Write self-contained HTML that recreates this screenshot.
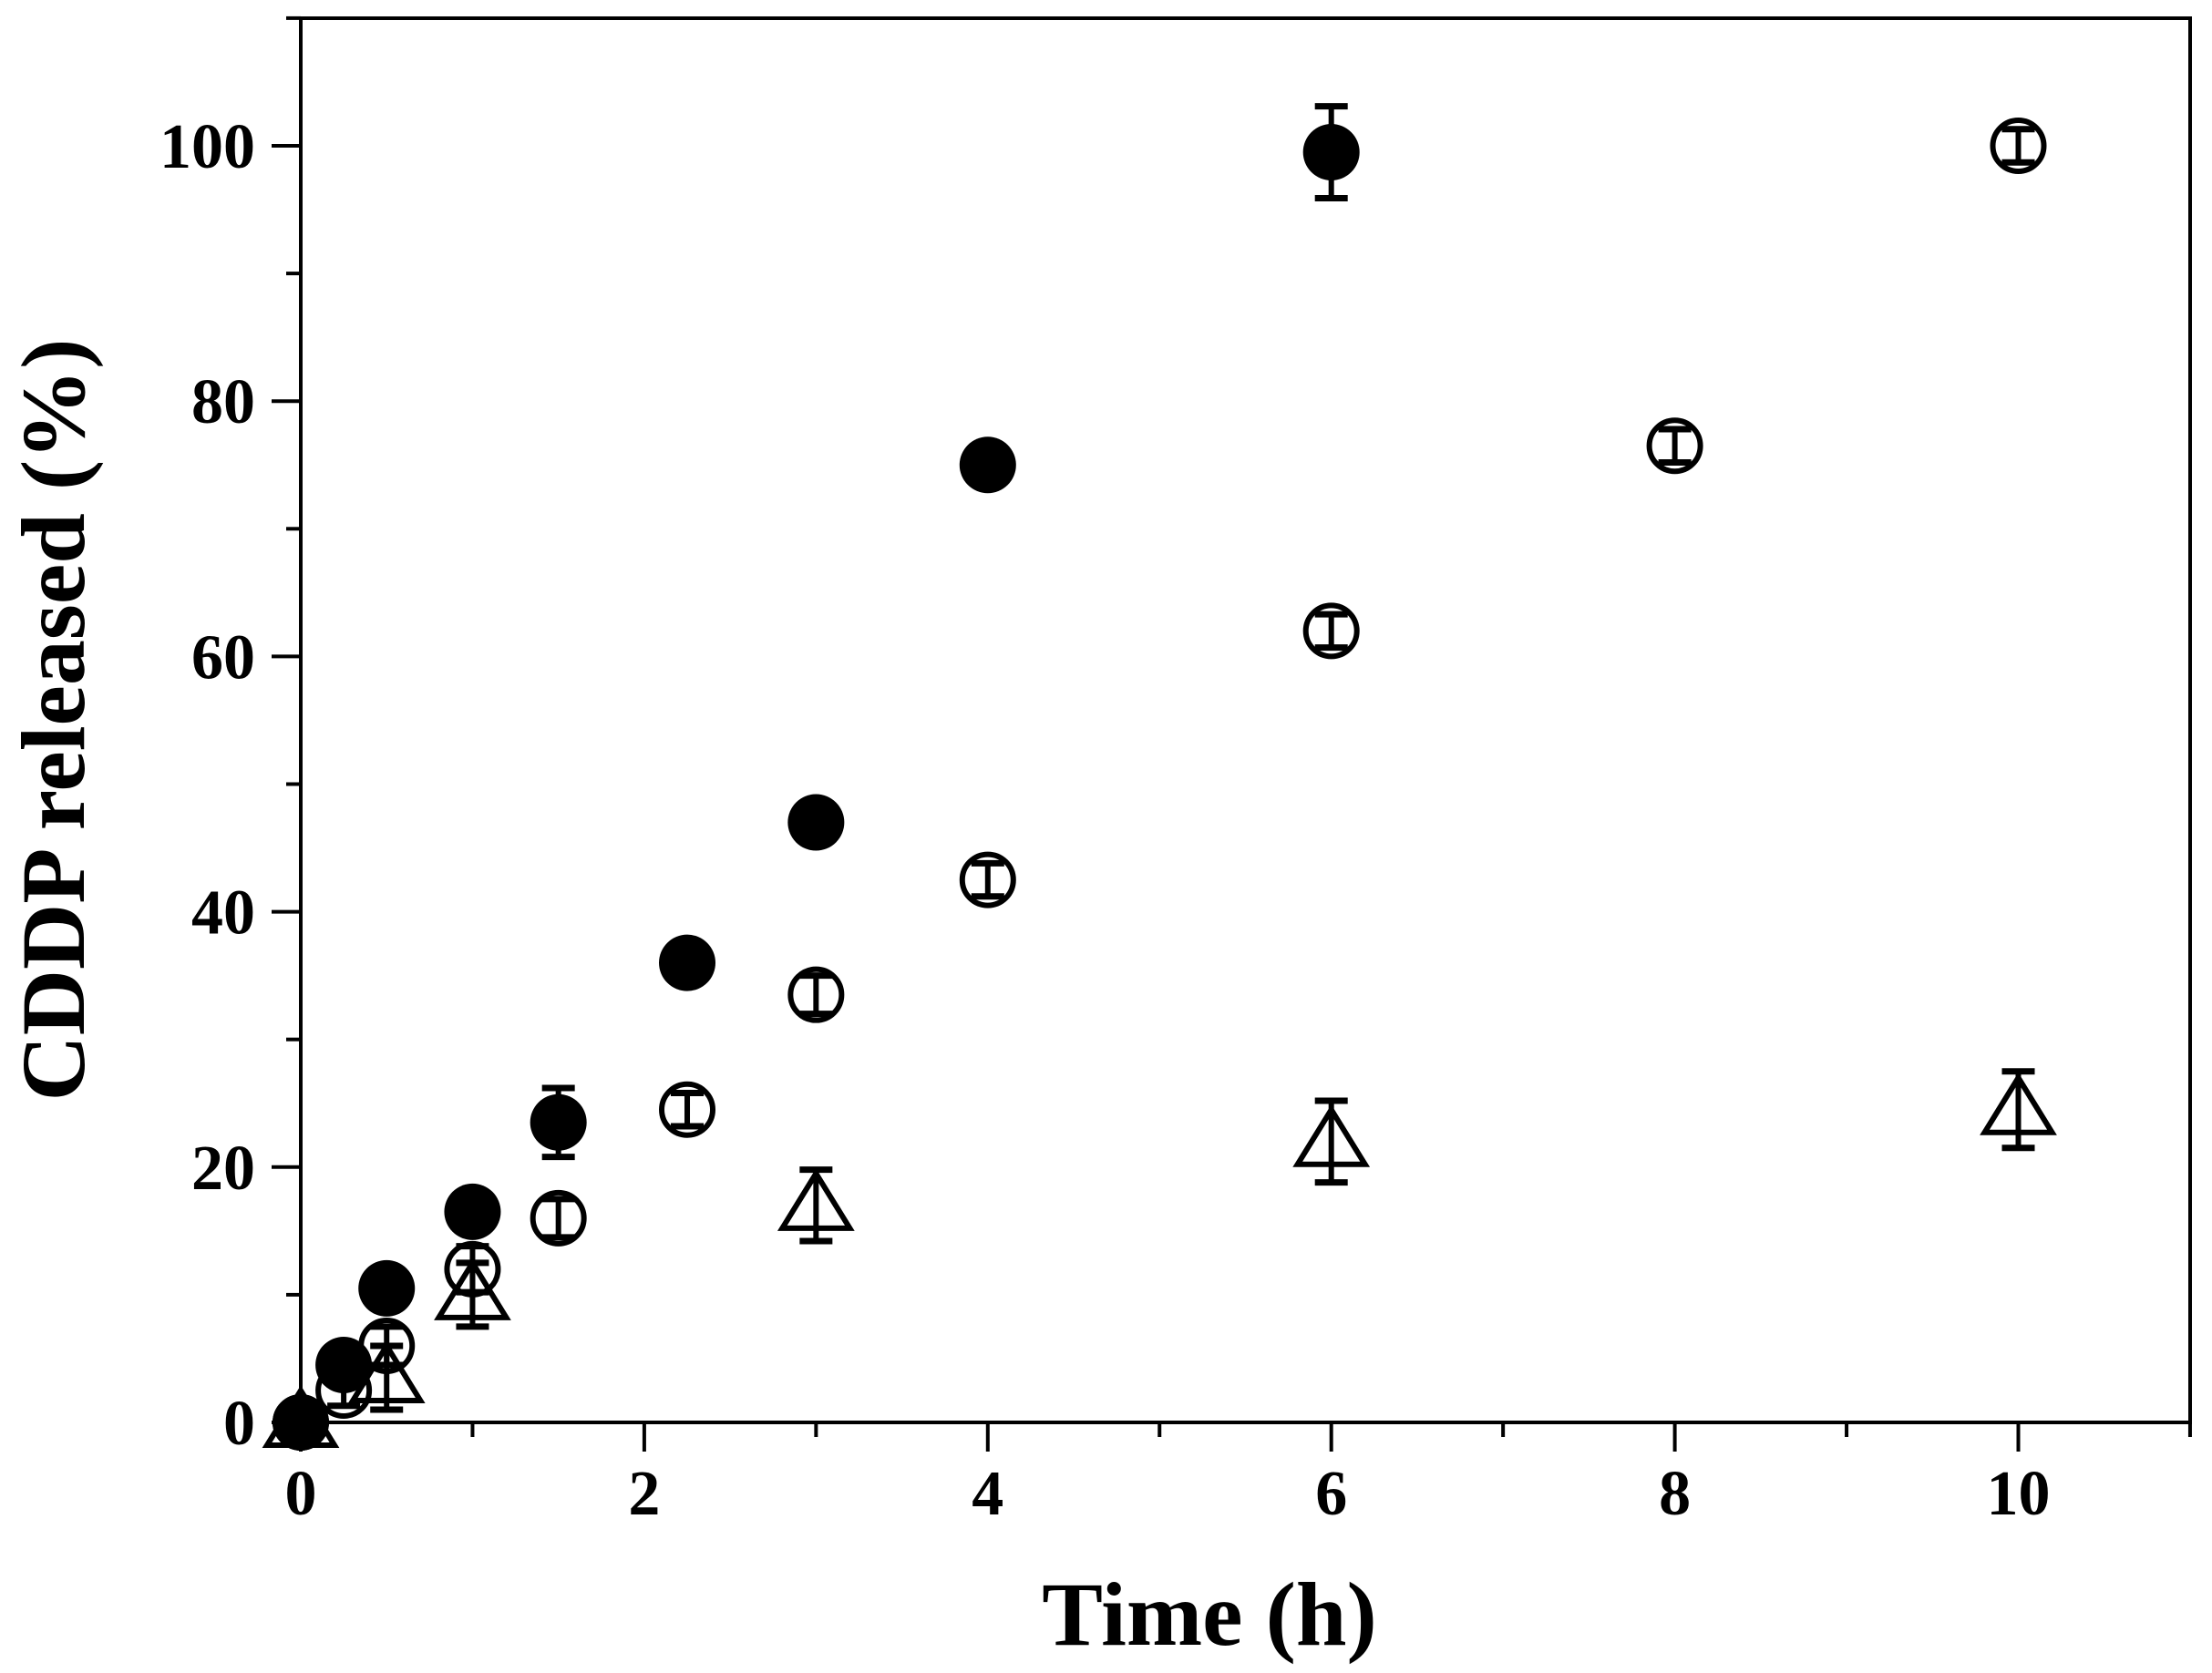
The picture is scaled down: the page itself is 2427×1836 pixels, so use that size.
<!DOCTYPE html>
<html><head><meta charset="utf-8"><style>body{margin:0;background:#fff}svg{display:block}</style></head><body>
<svg width="2427" height="1836" viewBox="0 0 2427 1836" xmlns="http://www.w3.org/2000/svg" font-family="Liberation Serif, serif" font-weight="bold">
<rect width="2427" height="1836" fill="#fff"/>
<g stroke="#000" stroke-width="4" fill="none">
<rect x="330" y="20" width="2073" height="1541"/>
</g>
<g id="ticks" stroke="#000" stroke-width="4"></g>
<g id="labels" font-size="70" fill="#000"></g>
<g id="data"></g>
<text x="1327" y="1805" font-size="100" text-anchor="middle">Time (h)</text>
<text transform="translate(92,790) rotate(-90)" font-size="100" text-anchor="middle">CDDP released (%)</text>
<script>
const X=h=>330+h*188.45, Y=v=>1561-v*14.01;
const NS="http://www.w3.org/2000/svg";
function el(p,t,a,txt){const e=document.createElementNS(NS,t);for(const k in a)e.setAttribute(k,a[k]);if(txt!==undefined)e.textContent=txt;document.getElementById(p).appendChild(e);}
for(let h=0;h<=11;h++){const L=h%2==0?32:16;el('ticks','line',{x1:X(h),x2:X(h),y1:1561,y2:1561+L});
 if(h%2==0)el('labels','text',{x:X(h),y:1662,'text-anchor':'middle'},h);}
for(let v=0;v<=110;v+=10){const L=v%20==0?32:16;el('ticks','line',{x1:330,x2:330-L,y1:Y(v),y2:Y(v)});
 if(v%20==0)el('labels','text',{x:280,y:Y(v)+24,'text-anchor':'end'},v);}
function err(x,y,e){const cx=X(x),t=Y(y+e),b=Y(y-e);
 el('data','line',{x1:cx,x2:cx,y1:t,y2:b,stroke:'#000','stroke-width':6});
 el('data','line',{x1:cx-18,x2:cx+18,y1:t,y2:t,stroke:'#000','stroke-width':7});
 el('data','line',{x1:cx-18,x2:cx+18,y1:b,y2:b,stroke:'#000','stroke-width':7});}
const tri=[[0,0,1],[0.5,3.5,2.5],[1,10,2.5],[3,17,2.8],[6,22,3.2],[10,24.5,3]];
tri.forEach(([x,y,e])=>{err(x,y,e);const cx=X(x),cy=Y(y);
 el('data','polygon',{points:`${cx},${cy-35} ${cx-37},${cy+25} ${cx+37},${cy+25}`,fill:'none',stroke:'#000','stroke-width':6});});
const oc=[[0,0,1],[0.25,2.5,1.2],[0.5,6,1.5],[1,12,1.8],[1.5,16,1.5],[2.25,24.5,1.3],[3,33.5,1.5],[4,42.5,1.3],[6,62,1.3],[8,76.5,1.3],[10,100,1.3]];
oc.forEach(([x,y,e])=>{err(x,y,e);el('data','circle',{cx:X(x),cy:Y(y),r:28,fill:'none',stroke:'#000','stroke-width':6});});
const fc=[[0,0,0.5],[0.25,4.5,0.5],[0.5,10.5,0.5],[1,16.5,0.5],[1.5,23.5,2.7],[2.25,36,0.5],[3,47,0.8],[4,75,0.8],[6,99.5,3.6]];
fc.forEach(([x,y,e])=>{err(x,y,e);el('data','circle',{cx:X(x),cy:Y(y),r:31,fill:'#000'});});
</script>
</svg>
</body></html>
